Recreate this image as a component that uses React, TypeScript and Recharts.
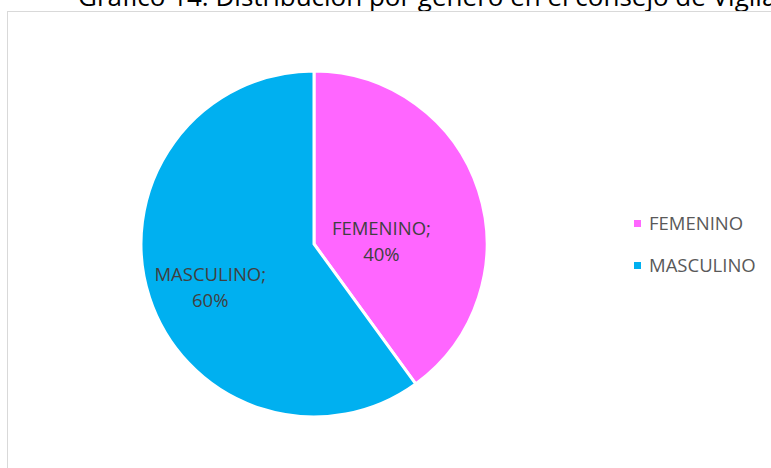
import React from 'react';
import { PieChart, Pie, Cell, Legend } from 'recharts';

const categories = ['FEMENINO', 'MASCULINO'];
const shares = [40, 60];
const sliceColors = ['#FF66FF', '#00B0F0'];

const title = 'Gráfico 14. Distribución por género en el consejo de Vigilancia';

const data = categories.map((name, i) => ({ name, value: shares[i] }));

// where Excel put each data label (fraction of radius, extra angle in degrees)
const labelPlacement: Record<string, { k: number; shift: number }> = {
  FEMENINO: { k: 0.39, shift: -15.4 },
  MASCULINO: { k: 0.65, shift: 4.7 },
};

const RADIAN = Math.PI / 180;
const FONT = '"Open Sans", "Noto Sans", sans-serif';

const renderLabel = (props: any) => {
  const { cx, cy, midAngle, outerRadius, name, percent } = props;
  const p = labelPlacement[name] || { k: 0.6, shift: 0 };
  const a = (midAngle + p.shift) * RADIAN;
  const x = cx + outerRadius * p.k * Math.cos(a);
  const y = cy - outerRadius * p.k * Math.sin(a);
  return (
    <text
      x={x}
      y={y}
      textAnchor="middle"
      fill="#404040"
      style={{ fontFamily: FONT, fontSize: 18.5 }}
    >
      <tspan x={x} dy={-6}>{`${name};`}</tspan>
      <tspan x={x} dy={26}>{`${Math.round(percent * 100)}%`}</tspan>
    </text>
  );
};

const LegendContent = (props: any) => {
  const { payload } = props;
  return (
    <div style={{ fontFamily: FONT }}>
      {(payload || []).map((entry: any) => (
        <div
          key={entry.value}
          style={{ display: 'flex', alignItems: 'center', height: 42 }}
        >
          <span
            style={{
              display: 'inline-block',
              width: 7,
              height: 7,
              background: entry.color,
              marginRight: 8,
            }}
          />
          <span style={{ fontSize: 18.5, color: '#595959', lineHeight: '20px' }}>
            {entry.value}
          </span>
        </div>
      ))}
    </div>
  );
};

export default function App() {
  return (
    <div
      style={{
        position: 'absolute',
        left: 0,
        top: 0,
        width: 771,
        height: 468,
        overflow: 'hidden',
        background: '#ffffff',
      }}
    >
      <div
        style={{
          position: 'absolute',
          left: 78,
          top: -17,
          fontFamily: FONT,
          fontSize: 26,
          lineHeight: '26px',
          color: '#000000',
          whiteSpace: 'nowrap',
        }}
      >
        {title}
      </div>
      <div
        style={{
          position: 'absolute',
          left: 7,
          top: 11,
          width: 820,
          height: 520,
          border: '1.5px solid #d9d9d9',
        }}
      />
      <div style={{ position: 'absolute', left: 0, top: 0 }}>
        <PieChart
          width={771}
          height={468}
          margin={{ top: 0, right: 0, bottom: 0, left: 0 }}
        >
          <Pie
            data={data}
            dataKey="value"
            nameKey="name"
            cx={314}
            cy={244}
            outerRadius={173}
            startAngle={90}
            endAngle={-270}
            stroke="#ffffff"
            strokeWidth={3}
            label={renderLabel}
            labelLine={false}
            isAnimationActive={false}
          >
            {data.map((d, i) => (
              <Cell key={d.name} fill={sliceColors[i]} />
            ))}
          </Pie>
          <Legend
            layout="vertical"
            content={<LegendContent />}
            wrapperStyle={{ left: 634, top: 202, width: 140 }}
          />
        </PieChart>
      </div>
    </div>
  );
}
